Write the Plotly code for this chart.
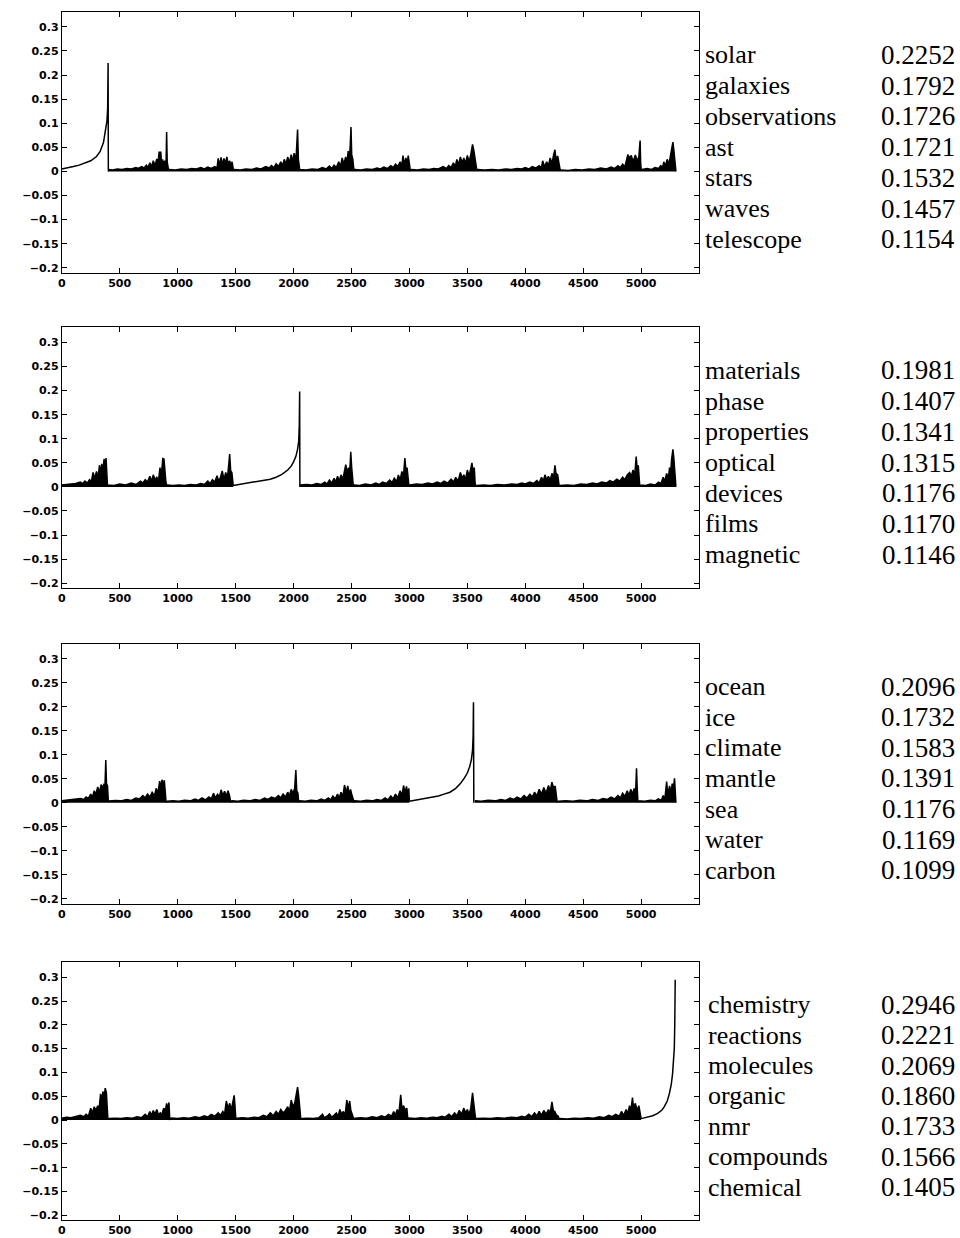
import plotly.graph_objects as go

# ---------------- data ----------------
X_TICKS = [0, 500, 1000, 1500, 2000, 2500, 3000, 3500, 4000, 4500, 5000]
Y_TICKS = [-0.2, -0.15, -0.1, -0.05, 0, 0.05, 0.1, 0.15, 0.2, 0.25, 0.3]
Y_TICKTEXT = ["\u22120.2", "\u22120.15", "\u22120.1", "\u22120.05", "0", "0.05", "0.1", "0.15", "0.2", "0.25", "0.3"]

# panel 1 : astronomy cluster
P1_CURVE = [(0, 0.005), (50, 0.007), (100, 0.010), (150, 0.013), (200, 0.017), (250, 0.022),
            (300, 0.031), (330, 0.041), (360, 0.060), (380, 0.085), (390, 0.105), (396, 0.130),
            (398, 0.160), (400, 0.2252), (402, 0.0)]
P1_NOISE = [
    (402, 0.004), (440, 0.003), (480, 0.005), (520, 0.004), (560, 0.006), (600, 0.005), (640, 0.008),
    (660, 0.006), (690, 0.010), (710, 0.007), (730, 0.013), (745, 0.008), (760, 0.018), (775, 0.010),
    (790, 0.022), (805, 0.012), (820, 0.026), (830, 0.015), (840, 0.040), (855, 0.040), (860, 0.018),
    (870, 0.025), (880, 0.016), (890, 0.022), (900, 0.015), (905, 0.082), (910, 0.020), (918, 0.012),
    (922, 0.002),
    (930, 0.004), (980, 0.003), (1030, 0.005), (1080, 0.004), (1120, 0.006), (1160, 0.005), (1200, 0.008),
    (1230, 0.005), (1260, 0.009), (1290, 0.006), (1320, 0.010), (1340, 0.007), (1350, 0.027), (1360, 0.012),
    (1375, 0.029), (1385, 0.014), (1400, 0.027), (1410, 0.015), (1425, 0.030), (1435, 0.016), (1450, 0.022),
    (1460, 0.012), (1470, 0.020), (1478, 0.010), (1482, 0.002),
    (1490, 0.004), (1540, 0.003), (1590, 0.005), (1640, 0.004), (1680, 0.007), (1720, 0.005), (1760, 0.010),
    (1790, 0.007), (1810, 0.012), (1830, 0.008), (1850, 0.016), (1870, 0.010), (1890, 0.020), (1905, 0.012),
    (1920, 0.025), (1935, 0.015), (1950, 0.030), (1965, 0.018), (1980, 0.035), (1995, 0.020), (2005, 0.038),
    (2015, 0.022), (2025, 0.040), (2035, 0.087), (2042, 0.025), (2050, 0.010), (2054, 0.002),
    (2060, 0.004), (2110, 0.003), (2160, 0.005), (2210, 0.004), (2250, 0.008), (2280, 0.005), (2310, 0.011),
    (2330, 0.006), (2350, 0.013), (2370, 0.008), (2390, 0.020), (2405, 0.010), (2420, 0.028), (2435, 0.015),
    (2450, 0.030), (2462, 0.018), (2472, 0.042), (2482, 0.025), (2490, 0.057), (2496, 0.092), (2502, 0.035),
    (2512, 0.025), (2518, 0.010), (2522, 0.002),
    (2530, 0.004), (2580, 0.003), (2630, 0.005), (2680, 0.004), (2720, 0.007), (2750, 0.005), (2780, 0.009),
    (2810, 0.006), (2840, 0.012), (2860, 0.008), (2880, 0.015), (2900, 0.010), (2920, 0.020), (2935, 0.012),
    (2945, 0.033), (2955, 0.015), (2970, 0.028), (2980, 0.014), (2990, 0.033), (3000, 0.015), (3008, 0.002),
    (3020, 0.004), (3070, 0.003), (3120, 0.005), (3170, 0.004), (3210, 0.006), (3250, 0.005), (3290, 0.010),
    (3320, 0.006), (3340, 0.012), (3360, 0.008), (3380, 0.018), (3395, 0.010), (3410, 0.025), (3425, 0.014),
    (3440, 0.030), (3455, 0.018), (3470, 0.028), (3485, 0.016), (3500, 0.033), (3515, 0.020), (3530, 0.035),
    (3545, 0.056), (3555, 0.045), (3565, 0.030), (3575, 0.015), (3582, 0.002),
    (3590, 0.004), (3650, 0.003), (3710, 0.004), (3770, 0.003), (3830, 0.005), (3880, 0.004), (3930, 0.006),
    (3970, 0.005), (4000, 0.008), (4030, 0.005), (4060, 0.010), (4090, 0.007), (4120, 0.012), (4140, 0.008),
    (4150, 0.022), (4165, 0.010), (4185, 0.020), (4200, 0.012), (4215, 0.028), (4230, 0.016), (4245, 0.035),
    (4256, 0.045), (4265, 0.025), (4280, 0.032), (4292, 0.015), (4302, 0.002),
    (4310, 0.003), (4370, 0.002), (4430, 0.004), (4490, 0.003), (4550, 0.005), (4600, 0.004), (4650, 0.007),
    (4700, 0.005), (4740, 0.009), (4770, 0.006), (4800, 0.012), (4820, 0.008), (4840, 0.015), (4860, 0.010),
    (4885, 0.035), (4900, 0.028), (4915, 0.033), (4930, 0.020), (4950, 0.034), (4965, 0.022), (4980, 0.030),
    (4991, 0.064), (4996, 0.015), (5002, 0.002),
    (5010, 0.004), (5050, 0.006), (5090, 0.004), (5120, 0.008), (5150, 0.006), (5170, 0.012), (5185, 0.008),
    (5195, 0.020), (5210, 0.012), (5225, 0.025), (5240, 0.015), (5250, 0.030), (5260, 0.040), (5268, 0.055),
    (5274, 0.061), (5282, 0.045), (5290, 0.030), (5298, 0.010), (5300, 0.0)]

# panel 2 : materials cluster
P2_NOISE_A = [
    (0, 0.004), (40, 0.005), (80, 0.006), (120, 0.007), (160, 0.010), (180, 0.007), (200, 0.012), (220, 0.008),
    (240, 0.015), (255, 0.010), (270, 0.030), (285, 0.018), (300, 0.032), (315, 0.020), (325, 0.045),
    (335, 0.028), (345, 0.048), (355, 0.030), (365, 0.058), (375, 0.040), (382, 0.060), (390, 0.030),
    (395, 0.002),
    (400, 0.004), (450, 0.003), (500, 0.006), (550, 0.004), (600, 0.008), (640, 0.005), (680, 0.012),
    (700, 0.008), (720, 0.015), (740, 0.010), (760, 0.022), (775, 0.012), (790, 0.025), (805, 0.015),
    (820, 0.020), (835, 0.014), (848, 0.040), (858, 0.020), (872, 0.059), (882, 0.058), (890, 0.030),
    (898, 0.012), (905, 0.002),
    (912, 0.004), (960, 0.003), (1010, 0.004), (1060, 0.003), (1110, 0.005), (1160, 0.004), (1200, 0.007),
    (1230, 0.005), (1260, 0.012), (1280, 0.007), (1300, 0.015), (1320, 0.010), (1340, 0.023), (1355, 0.012),
    (1370, 0.020), (1385, 0.033), (1400, 0.015), (1415, 0.030), (1430, 0.018), (1449, 0.068), (1458, 0.033),
    (1468, 0.030), (1476, 0.010), (1480, 0.002)]
P2_CURVE = [(1480, 0.003), (1550, 0.006), (1600, 0.008), (1650, 0.010), (1700, 0.012), (1750, 0.014),
            (1800, 0.016), (1850, 0.020), (1900, 0.026), (1950, 0.035), (1980, 0.043), (2000, 0.052),
            (2020, 0.063), (2035, 0.078), (2045, 0.095), (2050, 0.130), (2053, 0.1981), (2055, 0.0)]
P2_NOISE_B = [
    (2056, 0.004), (2110, 0.005), (2160, 0.004), (2200, 0.007), (2240, 0.005), (2270, 0.010), (2290, 0.006),
    (2310, 0.014), (2330, 0.008), (2350, 0.018), (2365, 0.010), (2380, 0.022), (2395, 0.012), (2410, 0.025),
    (2425, 0.015), (2440, 0.035), (2451, 0.046), (2462, 0.030), (2475, 0.040), (2485, 0.028), (2494, 0.073),
    (2502, 0.040), (2510, 0.020), (2516, 0.002),
    (2525, 0.004), (2570, 0.003), (2620, 0.006), (2670, 0.004), (2710, 0.008), (2740, 0.005), (2770, 0.010),
    (2800, 0.007), (2830, 0.014), (2850, 0.009), (2870, 0.018), (2890, 0.011), (2905, 0.025), (2920, 0.014),
    (2935, 0.032), (2948, 0.020), (2961, 0.060), (2970, 0.035), (2980, 0.040), (2990, 0.015), (2996, 0.002),
    (3005, 0.004), (3060, 0.006), (3110, 0.005), (3160, 0.008), (3200, 0.006), (3240, 0.010), (3270, 0.007),
    (3300, 0.012), (3330, 0.008), (3360, 0.016), (3380, 0.010), (3400, 0.020), (3420, 0.012), (3440, 0.030),
    (3455, 0.018), (3470, 0.025), (3485, 0.015), (3500, 0.035), (3515, 0.022), (3530, 0.038), (3540, 0.050),
    (3550, 0.030), (3560, 0.040), (3566, 0.012), (3570, 0.002),
    (3580, 0.003), (3640, 0.004), (3700, 0.003), (3760, 0.005), (3820, 0.004), (3880, 0.006), (3930, 0.005),
    (3970, 0.008), (4000, 0.006), (4040, 0.010), (4070, 0.007), (4100, 0.013), (4120, 0.008), (4140, 0.020),
    (4155, 0.012), (4170, 0.025), (4185, 0.015), (4200, 0.022), (4215, 0.014), (4230, 0.028), (4245, 0.020),
    (4256, 0.045), (4265, 0.028), (4280, 0.025), (4288, 0.010), (4292, 0.002),
    (4300, 0.003), (4360, 0.004), (4420, 0.003), (4480, 0.006), (4530, 0.005), (4580, 0.008), (4620, 0.006),
    (4660, 0.010), (4700, 0.008), (4730, 0.013), (4760, 0.010), (4790, 0.016), (4815, 0.012), (4840, 0.020),
    (4860, 0.015), (4880, 0.025), (4900, 0.030), (4915, 0.022), (4930, 0.035), (4945, 0.025), (4957, 0.063),
    (4965, 0.040), (4975, 0.045), (4982, 0.015), (4988, 0.002),
    (4995, 0.004), (5040, 0.003), (5080, 0.006), (5120, 0.004), (5150, 0.010), (5170, 0.007), (5190, 0.020),
    (5205, 0.012), (5220, 0.028), (5235, 0.018), (5245, 0.040), (5255, 0.030), (5262, 0.055), (5268, 0.065),
    (5274, 0.078), (5282, 0.060), (5290, 0.040), (5298, 0.020), (5300, 0.0)]

# panel 3 : geoscience cluster
P3_NOISE_A = [
    (0, 0.004), (40, 0.005), (80, 0.006), (120, 0.007), (160, 0.009), (190, 0.007), (210, 0.012), (230, 0.009),
    (250, 0.018), (265, 0.012), (280, 0.025), (295, 0.018), (310, 0.033), (325, 0.022), (340, 0.038),
    (355, 0.030), (365, 0.040), (372, 0.028), (380, 0.089), (386, 0.040), (395, 0.035), (402, 0.002),
    (410, 0.004), (460, 0.005), (510, 0.004), (560, 0.007), (600, 0.005), (640, 0.010), (670, 0.008),
    (700, 0.015), (720, 0.010), (740, 0.018), (760, 0.012), (780, 0.022), (800, 0.015), (815, 0.030),
    (830, 0.020), (845, 0.045), (855, 0.030), (865, 0.048), (875, 0.035), (885, 0.047), (893, 0.020),
    (900, 0.002),
    (910, 0.003), (960, 0.004), (1010, 0.003), (1060, 0.005), (1110, 0.004), (1150, 0.008), (1180, 0.005),
    (1210, 0.010), (1240, 0.006), (1270, 0.012), (1290, 0.008), (1310, 0.020), (1325, 0.010), (1345, 0.018),
    (1360, 0.012), (1375, 0.027), (1390, 0.015), (1405, 0.024), (1420, 0.014), (1435, 0.025), (1448, 0.015),
    (1458, 0.002),
    (1470, 0.004), (1520, 0.003), (1570, 0.005), (1620, 0.004), (1670, 0.007), (1710, 0.005), (1750, 0.010),
    (1780, 0.007), (1810, 0.012), (1840, 0.009), (1870, 0.015), (1890, 0.010), (1910, 0.018), (1930, 0.012),
    (1950, 0.022), (1965, 0.015), (1980, 0.028), (1995, 0.020), (2010, 0.030), (2020, 0.068), (2028, 0.025),
    (2038, 0.020), (2044, 0.002),
    (2055, 0.004), (2100, 0.003), (2150, 0.005), (2200, 0.004), (2240, 0.008), (2270, 0.005), (2300, 0.010),
    (2320, 0.006), (2340, 0.014), (2360, 0.008), (2380, 0.018), (2395, 0.010), (2410, 0.022), (2425, 0.012),
    (2440, 0.037), (2455, 0.020), (2468, 0.035), (2480, 0.018), (2492, 0.028), (2505, 0.015), (2515, 0.008),
    (2522, 0.002),
    (2530, 0.004), (2580, 0.003), (2630, 0.005), (2680, 0.004), (2720, 0.007), (2760, 0.005), (2790, 0.010),
    (2815, 0.006), (2840, 0.014), (2860, 0.008), (2880, 0.018), (2900, 0.010), (2920, 0.025), (2935, 0.015),
    (2950, 0.036), (2962, 0.020), (2975, 0.034), (2985, 0.018), (2995, 0.030), (3000, 0.003)]
P3_CURVE = [(3000, 0.003), (3050, 0.005), (3100, 0.007), (3150, 0.009), (3200, 0.011), (3250, 0.014),
            (3300, 0.018), (3350, 0.022), (3400, 0.030), (3440, 0.040), (3470, 0.050), (3500, 0.062),
            (3520, 0.075), (3535, 0.090), (3545, 0.110), (3550, 0.140), (3553, 0.2096), (3556, 0.0)]
P3_NOISE_B = [
    (3565, 0.004), (3620, 0.003), (3680, 0.005), (3740, 0.004), (3790, 0.007), (3830, 0.005), (3870, 0.010),
    (3900, 0.007), (3930, 0.012), (3960, 0.008), (3990, 0.015), (4015, 0.010), (4040, 0.018), (4060, 0.012),
    (4080, 0.022), (4100, 0.014), (4120, 0.028), (4140, 0.018), (4160, 0.032), (4180, 0.020), (4200, 0.036),
    (4215, 0.025), (4230, 0.043), (4245, 0.030), (4258, 0.035), (4268, 0.015), (4275, 0.002),
    (4285, 0.003), (4350, 0.004), (4410, 0.003), (4470, 0.005), (4530, 0.004), (4580, 0.007), (4630, 0.005),
    (4670, 0.009), (4710, 0.007), (4740, 0.012), (4770, 0.008), (4800, 0.015), (4820, 0.010), (4840, 0.020),
    (4860, 0.013), (4880, 0.025), (4895, 0.015), (4910, 0.028), (4925, 0.018), (4940, 0.030), (4952, 0.020),
    (4960, 0.072), (4966, 0.030), (4972, 0.002),
    (4980, 0.004), (5030, 0.003), (5080, 0.005), (5120, 0.004), (5150, 0.008), (5175, 0.005), (5190, 0.015),
    (5205, 0.008), (5220, 0.044), (5230, 0.015), (5245, 0.035), (5258, 0.020), (5268, 0.040), (5278, 0.030),
    (5288, 0.051), (5295, 0.030), (5300, 0.0)]

# panel 4 : chemistry cluster
P4_NOISE = [
    (0, 0.004), (40, 0.006), (80, 0.005), (120, 0.008), (160, 0.010), (190, 0.007), (210, 0.012), (230, 0.008),
    (250, 0.025), (265, 0.015), (280, 0.028), (295, 0.020), (310, 0.030), (320, 0.018), (335, 0.055),
    (345, 0.040), (355, 0.060), (365, 0.045), (375, 0.067), (385, 0.058), (392, 0.030), (398, 0.002),
    (410, 0.003), (460, 0.004), (510, 0.003), (560, 0.005), (610, 0.004), (650, 0.007), (690, 0.005),
    (720, 0.012), (740, 0.007), (760, 0.018), (775, 0.010), (790, 0.020), (805, 0.012), (820, 0.022),
    (835, 0.010), (850, 0.015), (865, 0.012), (880, 0.025), (893, 0.018), (905, 0.035), (915, 0.022),
    (925, 0.037), (932, 0.002),
    (945, 0.004), (1000, 0.003), (1050, 0.005), (1100, 0.004), (1150, 0.007), (1190, 0.005), (1230, 0.009),
    (1260, 0.006), (1290, 0.012), (1320, 0.008), (1350, 0.015), (1370, 0.010), (1390, 0.018), (1405, 0.012),
    (1420, 0.040), (1435, 0.025), (1450, 0.035), (1462, 0.020), (1475, 0.040), (1488, 0.052), (1495, 0.030),
    (1502, 0.002),
    (1510, 0.004), (1560, 0.005), (1610, 0.004), (1660, 0.006), (1700, 0.005), (1740, 0.010), (1770, 0.007),
    (1800, 0.015), (1825, 0.009), (1850, 0.018), (1870, 0.012), (1890, 0.022), (1910, 0.015), (1930, 0.020),
    (1950, 0.028), (1965, 0.018), (1980, 0.042), (1995, 0.028), (2010, 0.035), (2025, 0.060), (2035, 0.069),
    (2045, 0.050), (2055, 0.030), (2063, 0.002),
    (2075, 0.003), (2120, 0.004), (2170, 0.003), (2220, 0.005), (2250, 0.012), (2265, 0.005), (2290, 0.008),
    (2310, 0.013), (2330, 0.006), (2350, 0.010), (2370, 0.015), (2385, 0.008), (2400, 0.022), (2415, 0.012),
    (2430, 0.018), (2445, 0.010), (2460, 0.042), (2472, 0.025), (2485, 0.040), (2495, 0.020), (2510, 0.008),
    (2520, 0.002),
    (2530, 0.004), (2580, 0.005), (2630, 0.004), (2680, 0.007), (2720, 0.005), (2760, 0.009), (2790, 0.006),
    (2820, 0.012), (2845, 0.008), (2865, 0.018), (2880, 0.010), (2895, 0.022), (2910, 0.015), (2925, 0.053),
    (2935, 0.025), (2950, 0.030), (2965, 0.020), (2978, 0.025), (2986, 0.002),
    (2995, 0.004), (3050, 0.003), (3100, 0.005), (3150, 0.004), (3200, 0.006), (3240, 0.005), (3280, 0.008),
    (3310, 0.006), (3340, 0.012), (3365, 0.007), (3390, 0.015), (3410, 0.009), (3430, 0.020), (3450, 0.012),
    (3470, 0.025), (3485, 0.015), (3500, 0.022), (3515, 0.012), (3530, 0.025), (3545, 0.057), (3555, 0.030),
    (3565, 0.015), (3572, 0.002),
    (3580, 0.003), (3640, 0.004), (3700, 0.003), (3760, 0.005), (3820, 0.004), (3880, 0.006), (3930, 0.005),
    (3970, 0.008), (4000, 0.006), (4030, 0.012), (4055, 0.007), (4080, 0.015), (4100, 0.009), (4120, 0.018),
    (4140, 0.010), (4160, 0.020), (4180, 0.012), (4200, 0.022), (4215, 0.014), (4230, 0.038), (4242, 0.020),
    (4255, 0.018), (4270, 0.010), (4285, 0.008), (4292, 0.002),
    (4300, 0.003), (4360, 0.002), (4420, 0.004), (4480, 0.003), (4540, 0.005), (4590, 0.004), (4640, 0.007),
    (4680, 0.005), (4720, 0.010), (4750, 0.007), (4780, 0.012), (4810, 0.008), (4830, 0.018), (4850, 0.010),
    (4870, 0.022), (4885, 0.014), (4900, 0.030), (4912, 0.020), (4925, 0.047), (4935, 0.025), (4950, 0.035),
    (4965, 0.020), (4980, 0.030), (4992, 0.010), (5000, 0.003)]
P4_CURVE = [(5000, 0.003), (5050, 0.006), (5100, 0.009), (5143, 0.014), (5180, 0.021), (5200, 0.028),
            (5225, 0.040), (5243, 0.055), (5260, 0.075), (5271, 0.097), (5280, 0.120), (5286, 0.150),
            (5290, 0.200), (5294, 0.2946)]

WORDS_1 = ["solar", "galaxies", "observations", "ast", "stars", "waves", "telescope"]
VALUES_1 = ["0.2252", "0.1792", "0.1726", "0.1721", "0.1532", "0.1457", "0.1154"]
WORDS_2 = ["materials", "phase", "properties", "optical", "devices", "films", "magnetic"]
VALUES_2 = ["0.1981", "0.1407", "0.1341", "0.1315", "0.1176", "0.1170", "0.1146"]
WORDS_3 = ["ocean", "ice", "climate", "mantle", "sea", "water", "carbon"]
VALUES_3 = ["0.2096", "0.1732", "0.1583", "0.1391", "0.1176", "0.1169", "0.1099"]
WORDS_4 = ["chemistry", "reactions", "molecules", "organic", "nmr", "compounds", "chemical"]
VALUES_4 = ["0.2946", "0.2221", "0.2069", "0.1860", "0.1733", "0.1566", "0.1405"]

# ---------------- figure ----------------
W, H = 960, 1238
fig = go.Figure()

panels = [
    dict(noise=[P1_NOISE], curves=[P1_CURVE], words=WORDS_1, values=VALUES_1, top=12, bottom=273, tx=702),
    dict(noise=[P2_NOISE_A, P2_NOISE_B], curves=[P2_CURVE], words=WORDS_2, values=VALUES_2, top=328, bottom=589, tx=702),
    dict(noise=[P3_NOISE_A, P3_NOISE_B], curves=[P3_CURVE], words=WORDS_3, values=VALUES_3, top=645, bottom=905, tx=702),
    dict(noise=[P4_NOISE], curves=[P4_CURVE], words=WORDS_4, values=VALUES_4, top=964, bottom=1222, tx=705),
]

X_LEFT, X_RIGHT = 58, 698
Y_RANGE = [-0.21, 0.331]
tick_font = dict(family="DejaVu Sans", size=11, color="black", weight="bold")
word_font = dict(family="Liberation Serif", size=26, color="black")
value_font = dict(family="Liberation Serif", size=27, color="black")

for i, p in enumerate(panels, start=1):
    xa = "x" if i == 1 else f"x{i}"
    ya = "y" if i == 1 else f"y{i}"
    for seg in p["noise"]:
        xs = [a for a, b in seg]
        ys = [b for a, b in seg]
        fig.add_trace(go.Scatter(x=xs, y=ys, mode="lines", fill="tozeroy",
                                 fillcolor="black", line=dict(color="black", width=1.5),
                                 xaxis=xa, yaxis=ya, showlegend=False, hoverinfo="skip"))
    for seg in p["curves"]:
        xs = [a for a, b in seg]
        ys = [b for a, b in seg]
        fig.add_trace(go.Scatter(x=xs, y=ys, mode="lines",
                                 line=dict(color="black", width=1.5),
                                 xaxis=xa, yaxis=ya, showlegend=False, hoverinfo="skip"))

    dom_y = [1 - p["bottom"] / H, 1 - p["top"] / H]
    axis_common = dict(showline=True, linecolor="black", linewidth=1, mirror="ticks",
                       ticks="inside", ticklen=5, tickcolor="black", tickwidth=1,
                       showgrid=False, zeroline=False, tickfont=tick_font)
    fig.layout[("xaxis" if i == 1 else f"xaxis{i}")] = dict(
        domain=[X_LEFT / W, X_RIGHT / W], anchor=ya, range=[0, 5500],
        tickvals=X_TICKS, ticktext=[str(v) for v in X_TICKS], **axis_common)
    fig.layout[("yaxis" if i == 1 else f"yaxis{i}")] = dict(
        domain=dom_y, anchor=xa, range=Y_RANGE,
        tickvals=Y_TICKS, ticktext=Y_TICKTEXT, **axis_common)

    for r, (w, v) in enumerate(zip(p["words"], p["values"])):
        yv = 0.242 - r * 0.0638
        fig.add_annotation(x=p["tx"] / W, y=yv, xref="paper", yref=ya, text=w, showarrow=False,
                           xanchor="left", yanchor="middle", font=word_font)
        fig.add_annotation(x=957 / W, y=yv, xref="paper", yref=ya, text=v, showarrow=False,
                           xanchor="right", yanchor="middle", font=value_font)

fig.update_layout(width=W, height=H, margin=dict(l=0, r=0, t=0, b=0),
                  paper_bgcolor="white", plot_bgcolor="white")

fig.write_html("out.html")
